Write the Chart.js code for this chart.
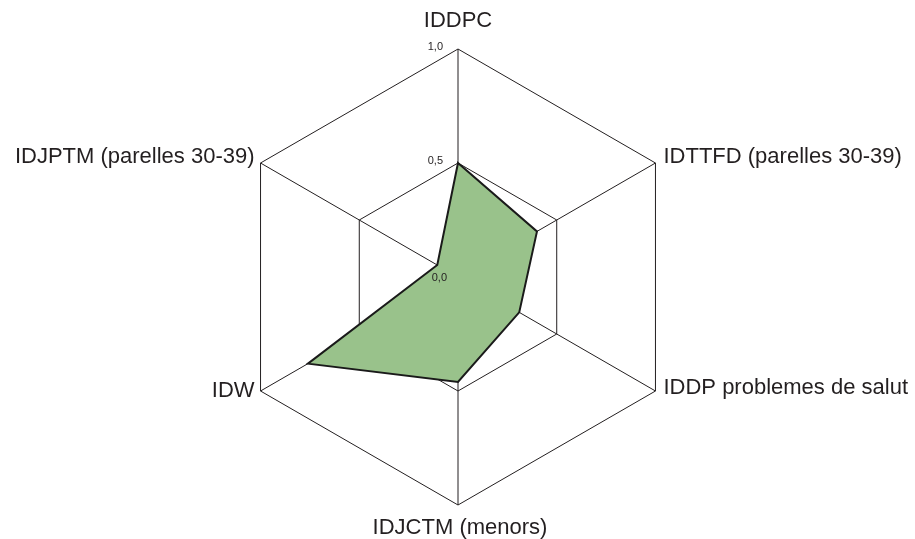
<!DOCTYPE html>
<html>
<head>
<meta charset="utf-8">
<script src="https://cdn.jsdelivr.net/npm/chart.js@4"></script>
<style>
  body { margin: 0; background: #fff; }
  #wrap { width: 915px; height: 539px; }
</style>
</head>
<body>
<div id="wrap"><canvas id="grafica"></canvas></div>
<script>
const CATEGORIAS = ['IDDPC', 'IDTTFD (parelles 30-39)', 'IDDP problemes de salut', 'IDJCTM (menors)', 'IDW', 'IDJPTM (parelles 30-39)'];
const VALORS = [0.50, 0.40, 0.31, 0.46, 0.76, 0.105];
const TICKS = [0, 0.5, 1];
const TICK_LABELS = ['0,0', '0,5', '1,0'];

const TEXT = '#231f20';
const FONT = '"Liberation Sans", Arial, sans-serif';

// etiquetes dels eixos i dels ticks, col·locades a partir de l'escala
const etiquetes = {
    id: 'etiquetes',
    afterDraw(chart) {
        const ctx = chart.ctx;
        const r = chart.scales.r;
        ctx.save();
        ctx.fillStyle = TEXT;

        // ticks a l'esquerra de l'eix vertical
        ctx.font = '11px ' + FONT;
        ctx.textAlign = 'right';
        ctx.textBaseline = 'middle';
        TICKS.forEach((t, i) => {
            const p = r.getPointPositionForValue(0, t);
            ctx.fillText(TICK_LABELS[i], p.x - (t === 0 ? 11 : 15), p.y - (t === 0 ? -1 : 2));
        });

        // noms dels eixos
        ctx.font = '22px ' + FONT;
        CATEGORIAS.forEach((nom, i) => {
            const p = r.getPointPositionForValue(i, r.max);
            let x = p.x, y = p.y;
            if (i === 0) { ctx.textAlign = 'center'; y -= 28; }
            else if (i === 3) { ctx.textAlign = 'center'; x += 2; y += 23; }
            else if (p.x > r.xCenter) { ctx.textAlign = 'left'; x += 8; y += (i === 1 ? -6 : -3); }
            else { ctx.textAlign = 'right'; x -= 6; y += (i === 5 ? -6 : 0); }
            ctx.fillText(nom, x, y);
        });
        ctx.restore();
    }
};

const ctx = document.getElementById('grafica').getContext('2d');
const myChart = new Chart(ctx, {
    type: 'radar',
    data: {
        labels: CATEGORIAS,
        datasets: [{
            data: VALORS,
            backgroundColor: 'rgb(153, 194, 139)',
            borderColor: '#1a1a1a',
            borderWidth: 2,
            pointRadius: 0,
            fill: true
        }]
    },
    options: {
        responsive: true,
        maintainAspectRatio: false,
        animation: false,
        layout: { padding: { top: 49, bottom: 34, left: 2, right: 0 } },
        plugins: {
            legend: { display: false },
            tooltip: { enabled: false }
        },
        scales: {
            r: {
                min: 0,
                max: 1,
                ticks: { stepSize: 0.5, display: false },
                grid: { circular: false, color: TEXT, lineWidth: 1 },
                angleLines: { color: TEXT, lineWidth: 1 },
                pointLabels: { display: false }
            }
        }
    },
    plugins: [etiquetes]
});
</script>
</body>
</html>
